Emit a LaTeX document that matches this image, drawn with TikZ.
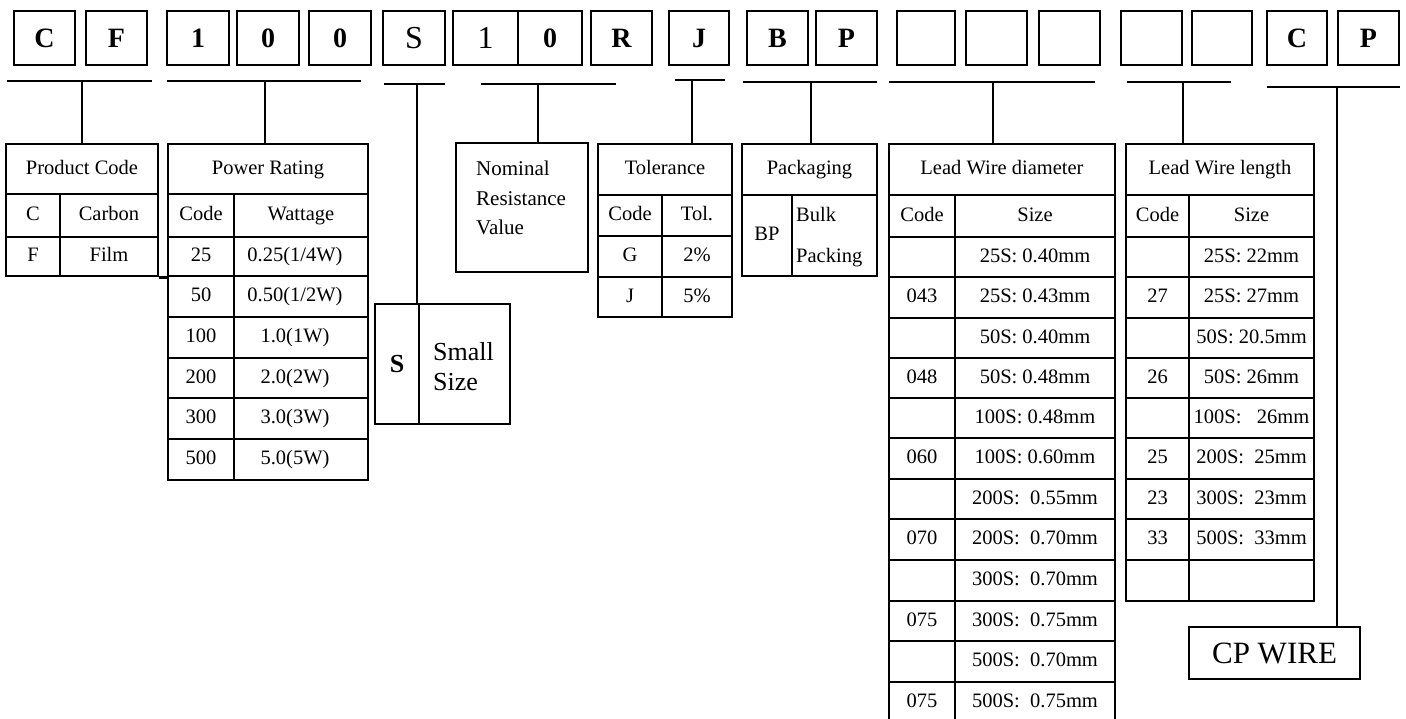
\documentclass[tikz,border=0pt]{standalone}
\usepackage{fontspec}
\setmainfont{Liberation Serif}
\newcommand\tbx[5][]{\node[topbox,#1,minimum width={(#3-#2)*1pt}] (#4) at ({(#2+#3)/2},38) {#5};}
\newcommand\cbox[7][]{\node[tcell,#1,minimum width={(#4-#2)*1pt},minimum height={(#5-#3)*1pt}] (#6) at ({(#2+#4)/2},{(#3+#5)/2}) {#7};}
\newcommand\lft[1]{#1\hspace*{12pt}}
\begin{document}
\begin{tikzpicture}[x=1pt,y=-1pt,
  topbox/.style={draw, line width=1.8pt, inner sep=0pt, minimum height=54pt, text height=19pt, text depth=0pt, font=\fontsize{28}{30}\selectfont\bfseries},
  regtop/.style={font=\fontsize{32}{34}\selectfont, text height=21.5pt},
  tcell/.style={draw, line width=2.9pt, inner sep=0pt, text height=15pt, text depth=4.5pt, font=\fontsize{20.5}{24}\selectfont},
  thinbox/.style={draw, line width=1.8pt, inner sep=0pt},
  bracket/.style={line width=2.2pt},
  drop/.style={line width=2.2pt},
  txt/.style={inner sep=0pt, font=\fontsize{20.5}{24}\selectfont}]
\useasboundingbox[fill=white] (0,0) rectangle (1406,719);
% ---- top row of code boxes
\tbx{14}{75}{tC}{C}
\tbx{86}{147}{tF}{F}
\tbx{167}{229}{t1}{1}
\tbx{237}{299}{t2}{0}
\tbx{309}{371}{t3}{0}
\tbx[regtop]{383}{445}{tS}{S}
\tbx[regtop]{453}{518}{t4}{1}
\tbx{518}{582}{t5}{0}
\tbx{591}{652}{tR}{R}
\tbx{669}{729}{tJ}{J}
\tbx{747}{808}{tB}{B}
\tbx{816}{877}{tP}{P}
\tbx{897}{955}{e1}{}
\tbx{966}{1027}{e2}{}
\tbx{1039}{1100}{e3}{}
\tbx{1121}{1182}{e4}{}
\tbx{1192}{1252}{e5}{}
\tbx{1267}{1327}{tC2}{C}
\tbx{1338}{1399}{tP2}{P}
% ---- Product code
\cbox{6}{144}{158}{194}{pch}{Product Code}
\cbox{6}{194}{60}{237}{pc1a}{C}
\cbox{60}{194}{158}{237}{pc1b}{Carbon}
\cbox{6}{237}{60}{276}{pc2a}{F}
\cbox{60}{237}{158}{276}{pc2b}{Film}
\draw[line width=2.9pt] (pc2b.south east) -- ++(10,0);
% ---- Power rating
\cbox{168}{144}{368}{194}{pwh}{Power Rating}
\cbox{168}{194}{234}{237}{pw1a}{Code}
\cbox{234}{194}{368}{237}{pw1b}{Wattage}
\cbox{168}{237}{234}{276}{pw2a}{25}
\cbox{234}{237}{368}{276}{pw2b}{\lft{0.25(1/4W)}}
\cbox{168}{276}{234}{317}{pw3a}{50}
\cbox{234}{276}{368}{317}{pw3b}{\lft{0.50(1/2W)}}
\cbox{168}{317}{234}{358}{pw4a}{100}
\cbox{234}{317}{368}{358}{pw4b}{\lft{1.0(1W)}}
\cbox{168}{358}{234}{398}{pw5a}{200}
\cbox{234}{358}{368}{398}{pw5b}{\lft{2.0(2W)}}
\cbox{168}{398}{234}{439}{pw6a}{300}
\cbox{234}{398}{368}{439}{pw6b}{\lft{3.0(3W)}}
\cbox{168}{439}{234}{480}{pw7a}{500}
\cbox{234}{439}{368}{480}{pw7b}{\lft{5.0(5W)}}
% ---- S box
\cbox[line width=2pt, text height=17.5pt, text depth=0pt]{375}{304}{419}{424}{sbl}{\fontsize{26}{28}\selectfont\bfseries S}
\cbox[line width=2pt]{419}{304}{510}{424}{sbr}{}
\node[txt, anchor=west, align=left, font=\fontsize{26}{30}\selectfont] (sbt) at (433,367) {Small\\Size};
% ---- Nominal
\node[thinbox, minimum width=132pt, minimum height=129pt] (nom) at (522,207.5) {};
\node[txt, anchor=west, align=left, font=\fontsize{21}{29.5}\selectfont] (nomt) at (476,198) {Nominal\\Resistance\\Value};
% ---- Tolerance
\cbox{598}{144}{732}{195}{toh}{Tolerance}
\cbox{598}{195}{662}{236}{to1a}{Code}
\cbox{662}{195}{732}{236}{to1b}{Tol.}
\cbox{598}{236}{662}{277}{to2a}{G}
\cbox{662}{236}{732}{277}{to2b}{2\%}
\cbox{598}{277}{662}{317}{to3a}{J}
\cbox{662}{277}{732}{317}{to3b}{5\%}
% ---- Packaging
\cbox{742}{144}{877}{195}{pkh}{Packaging}
\cbox{742}{195}{792}{276}{pka}{BP}
\cbox{792}{195}{877}{276}{pkb}{}
\node[txt, anchor=west, align=left, font=\fontsize{20.5}{41}\selectfont] (pkt) at (796,237) {Bulk\\Packing};
% ---- Lead wire diameter
\cbox{889}{144}{1115}{195}{ldh}{Lead Wire diameter}
\cbox{889}{195}{955}{237}{ld1a}{Code}
\cbox{955}{195}{1115}{237}{ld1b}{Size}
\cbox{889}{237}{955}{277}{ld2a}{}
\cbox{955}{237}{1115}{277}{ld2b}{25S: 0.40mm}
\cbox{889}{277}{955}{318}{ld3a}{043}
\cbox{955}{277}{1115}{318}{ld3b}{25S: 0.43mm}
\cbox{889}{318}{955}{358}{ld4a}{}
\cbox{955}{318}{1115}{358}{ld4b}{50S: 0.40mm}
\cbox{889}{358}{955}{398}{ld5a}{048}
\cbox{955}{358}{1115}{398}{ld5b}{50S: 0.48mm}
\cbox{889}{398}{955}{438}{ld6a}{}
\cbox{955}{398}{1115}{438}{ld6b}{100S: 0.48mm}
\cbox{889}{438}{955}{479}{ld7a}{060}
\cbox{955}{438}{1115}{479}{ld7b}{100S: 0.60mm}
\cbox{889}{479}{955}{519}{ld8a}{}
\cbox{955}{479}{1115}{519}{ld8b}{200S:~ 0.55mm}
\cbox{889}{519}{955}{560}{ld9a}{070}
\cbox{955}{519}{1115}{560}{ld9b}{200S:~ 0.70mm}
\cbox{889}{560}{955}{601}{ld10a}{}
\cbox{955}{560}{1115}{601}{ld10b}{300S:~ 0.70mm}
\cbox{889}{601}{955}{641}{ld11a}{075}
\cbox{955}{601}{1115}{641}{ld11b}{300S:~ 0.75mm}
\cbox{889}{641}{955}{682}{ld12a}{}
\cbox{955}{641}{1115}{682}{ld12b}{500S:~ 0.70mm}
\cbox{889}{682}{955}{722}{ld13a}{075}
\cbox{955}{682}{1115}{722}{ld13b}{500S:~ 0.75mm}
% ---- Lead wire length
\cbox{1126}{144}{1314}{195}{llh}{Lead Wire length}
\cbox{1126}{195}{1189}{237}{ll1a}{Code}
\cbox{1189}{195}{1314}{237}{ll1b}{Size}
\cbox{1126}{237}{1189}{277}{ll2a}{}
\cbox{1189}{237}{1314}{277}{ll2b}{25S: 22mm}
\cbox{1126}{277}{1189}{318}{ll3a}{27}
\cbox{1189}{277}{1314}{318}{ll3b}{25S: 27mm}
\cbox{1126}{318}{1189}{358}{ll4a}{}
\cbox{1189}{318}{1314}{358}{ll4b}{50S: 20.5mm}
\cbox{1126}{358}{1189}{398}{ll5a}{26}
\cbox{1189}{358}{1314}{398}{ll5b}{50S: 26mm}
\cbox{1126}{398}{1189}{438}{ll6a}{}
\cbox{1189}{398}{1314}{438}{ll6b}{100S:~~ 26mm}
\cbox{1126}{438}{1189}{479}{ll7a}{25}
\cbox{1189}{438}{1314}{479}{ll7b}{200S:~ 25mm}
\cbox{1126}{479}{1189}{519}{ll8a}{23}
\cbox{1189}{479}{1314}{519}{ll8b}{300S:~ 23mm}
\cbox{1126}{519}{1189}{560}{ll9a}{33}
\cbox{1189}{519}{1314}{560}{ll9b}{500S:~ 33mm}
\cbox{1126}{560}{1189}{601}{ll10a}{}
\cbox{1189}{560}{1314}{601}{ll10b}{}
% ---- CP WIRE
\node[thinbox, minimum width=171pt, minimum height=52pt, text height=21pt, text depth=0pt, font=\fontsize{31}{33}\selectfont] (cpw) at (1274.5,653) {CP WIRE};
% ---- brackets and drops
\coordinate (a1) at (7,81);    \coordinate (b1) at (152,81);  \coordinate (k1) at (82,81);
\coordinate (a2) at (167,81);  \coordinate (b2) at (361,81);  \coordinate (k2) at (265,81);
\coordinate (a3) at (384,84);  \coordinate (b3) at (445,84);  \coordinate (k3) at (417,84);
\coordinate (a4) at (481,84);  \coordinate (b4) at (616,84);  \coordinate (k4) at (538,84);
\coordinate (a5) at (675,80);  \coordinate (b5) at (725,80);  \coordinate (k5) at (692,80);
\coordinate (a6) at (743,82);  \coordinate (b6) at (877,82);  \coordinate (k6) at (811,82);
\coordinate (a7) at (889,82);  \coordinate (b7) at (1095,82); \coordinate (k7) at (993,82);
\coordinate (a8) at (1127,82); \coordinate (b8) at (1231,82); \coordinate (k8) at (1183,82);
\coordinate (a9) at (1267,87); \coordinate (b9) at (1400,87); \coordinate (k9) at (1337,87);
\foreach \i in {1,...,9} {\draw[bracket] (a\i) -- (b\i);}
\draw[drop] (k1) -- (k1 |- pch.north);
\draw[drop] (k2) -- (k2 |- pwh.north);
\draw[drop, line width=1.6pt] (k3) -- (k3 |- sbl.north);
\draw[drop, line width=1.6pt] (k4) -- (k4 |- nom.north);
\draw[drop] (k5) -- (k5 |- toh.north);
\draw[drop] (k6) -- (k6 |- pkh.north);
\draw[drop] (k7) -- (k7 |- ldh.north);
\draw[drop] (k8) -- (k8 |- llh.north);
\draw[drop, line width=1.6pt] (k9) -- (k9 |- cpw.north);
\end{tikzpicture}
\end{document}
